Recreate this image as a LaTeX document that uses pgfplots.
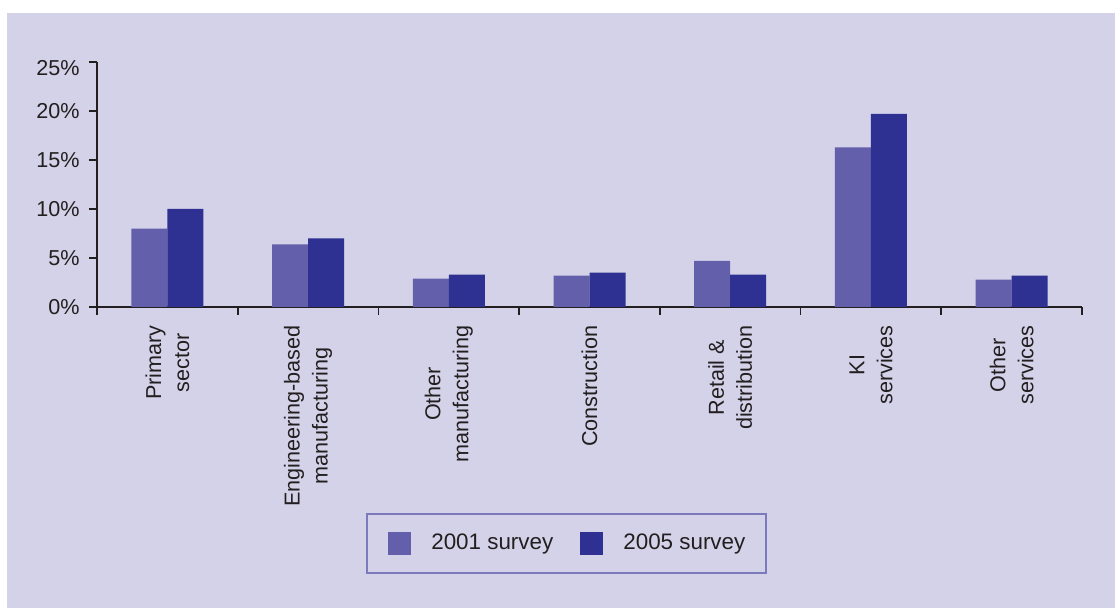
\documentclass[border=0pt]{standalone}
\usepackage{pgfplots}
\pgfplotsset{compat=1.18}
\usepackage{fontspec}
\setmainfont{Liberation Sans}

\definecolor{panel}{HTML}{D4D2E8}
\definecolor{svA}{HTML}{635FAA}
\definecolor{svB}{HTML}{2E3192}
\definecolor{axisdark}{HTML}{231F20}
\definecolor{legframe}{HTML}{7D79BD}

\begin{document}
\begin{tikzpicture}[font=\fontsize{10.8}{14}\selectfont, x=1pt, y=1pt]
% page and tinted panel
\path[use as bounding box, fill=white] (-48.5,-150.5) rectangle (509,153.5);
\fill[panel] (-45,-150.5) rectangle (509,147);
\begin{axis}[
  at={(0,0)}, anchor=south west,
  scale only axis, width=492.5pt, height=122.5pt,
  xmin=-0.5, xmax=6.5, ymin=0, ymax=25,
  axis x line*=bottom, axis y line*=left,
  x axis line style={axisdark, line width=1pt},
  y axis line style={axisdark, line width=1.3pt},
  tick align=outside, major tick length=4pt, minor tick length=4pt,
  tick style={axisdark, line width=0.9pt},
  ytick={0,5,...,25},
  yticklabels={0\%,5\%,10\%,15\%,20\%,\raisebox{-3pt}[\height][\depth]{25\%}},
  yticklabel style={inner sep=0pt, xshift=-4.5pt, text=axisdark},
  xtick={0,...,6},
  every major x tick/.append style={draw=none},
  minor xtick={-0.5,0.5,...,6.5},
  xticklabels={{Primary\\sector},{Engineering-based\\manufacturing},{Other\\manufacturing},{Construction},{Retail \&\\distribution},{KI\\services},{Other\\services}},
  xticklabel style={rotate=90, anchor=east, align=center, inner sep=0pt, text=axisdark},
  xticklabel shift=5pt,
  ybar=0pt, bar width=18pt,
  legend columns=2,
  legend image code/.code={\fill (0pt,-5.75pt) rectangle (11.5pt,5.75pt);},
  legend style={at={(0.477,-0.965)}, anchor=center, draw=legframe, line width=1pt,
    fill=none, inner xsep=10.5pt, inner ysep=9pt, column sep=0pt,
    font=\fontsize{11.2}{14}\selectfont,
    nodes={inner sep=0pt, anchor=west, text=axisdark},
    /tikz/every odd column/.append style={column sep=10pt},
    /tikz/every even column/.append style={column sep=13.5pt}},
]
\addplot[fill=svA, draw=none] coordinates {(0,8.0) (1,6.4) (2,2.9) (3,3.2) (4,4.7) (5,16.3) (6,2.8)};
\addplot[fill=svB, draw=none] coordinates {(0,10.0) (1,7.0) (2,3.3) (3,3.5) (4,3.3) (5,19.7) (6,3.2)};
\legend{2001 survey, 2005 survey}
\end{axis}
\end{tikzpicture}
\end{document}
